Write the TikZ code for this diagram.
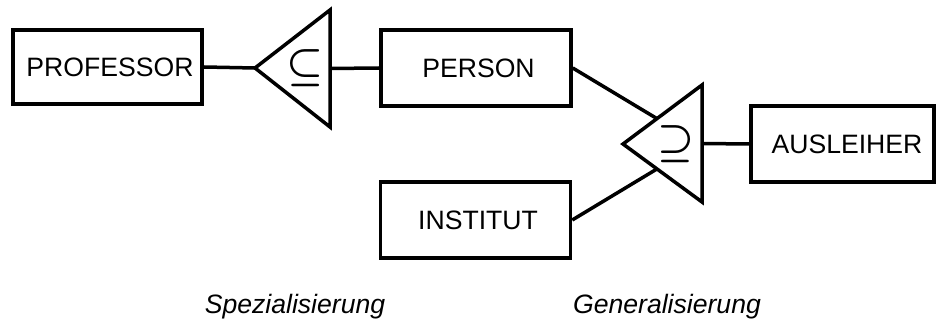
\documentclass[tikz,border=0pt]{standalone}
\usepackage{fontspec}
\setmainfont{Liberation Sans}
\usepackage{tikz}
\usetikzlibrary{positioning,calc}
\tikzset{
  ent/.style={rectangle,draw,line width=1.75pt,minimum width=95pt,
    minimum height=38pt,text centered,inner sep=0pt,
    font=\fontsize{13.3}{15}\selectfont,
    execute at begin node={\hspace*{2.5pt}}},
  isa/.style={draw,line width=1.75pt},
  con/.style={line width=1.75pt},
  sym/.style={inner sep=0pt,font=\fontsize{20}{22}\selectfont\boldmath},
  captxt/.style={anchor=base,font=\fontsize{13.3}{15}\selectfont\itshape},
}

\begin{document}
\begin{tikzpicture}[x=0.5pt,y=-0.5pt]
\useasboundingbox (0,0) rectangle (936,325);

% entity types
\node[ent,minimum width=94.5pt,minimum height=37pt] (prof) at (107.5,67) {PROFESSOR};
\node[ent] (pers) at (476,68) {PERSON};
\node[ent] (inst) at (475.5,220) {INSTITUT};
\node[ent,minimum width=91.5pt] (ausl) at (842.5,144) {\hspace*{2pt}AUSLEIHER};

% is-a triangle, specialisation
\draw[isa] (255,68) coordinate (s-apex) -- (330,10) coordinate (s-top)
  -- (330,127) coordinate (s-bot) -- cycle;
\coordinate (s-base) at ($(s-top)!0.5!(s-bot)$);
\node[sym] (s-sym) at ($(s-apex)!0.667!(s-base)$) {$\subseteq$};

% is-a triangle, generalisation
\draw[isa] (623,144) coordinate (g-apex) -- (702,85) coordinate (g-top)
  -- (702,202) coordinate (g-bot) -- cycle;
\coordinate (g-base) at ($(g-top)!0.5!(g-bot)$);
\node[sym] (g-sym) at ($(g-apex)!0.667!(g-base)$) {$\supseteq$};
\coordinate (g-in1) at ($(g-apex)!0.43!(g-top)$);
\coordinate (g-in2) at ($(g-apex)!0.43!(g-bot)$);

\draw[con] (prof.east) -- (s-apex);
\draw[con] (s-base) -- (pers.west);
\draw[con] (pers.east) -- (g-in1);
\draw[con] (inst.east) -- (g-in2);
\draw[con] (g-base) -- (ausl.west);

\node[captxt] (spez) at (295,314) {Spezialisierung};
\node[captxt] (gen) at (667,314) {Generalisierung};
\end{tikzpicture}
\end{document}
